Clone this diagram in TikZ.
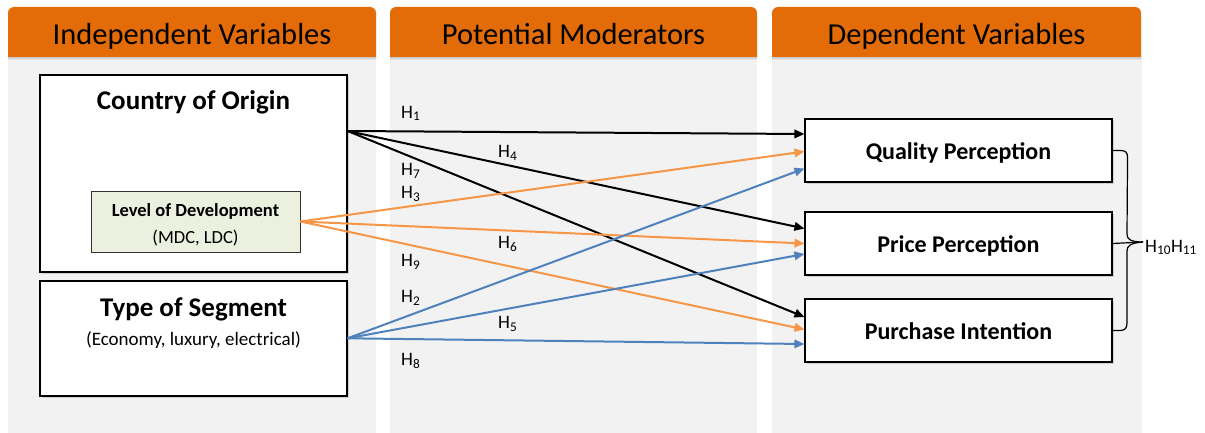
\documentclass[tikz,border=0pt]{standalone}
\usepackage{fontspec}
\setmainfont{Carlito}
\usetikzlibrary{arrows.meta,shadows,calc}

\definecolor{hdrorange}{HTML}{E36C09}
\definecolor{colgray}{HTML}{F2F2F2}
\definecolor{lodgreen}{HTML}{EBF1DE}
\definecolor{arrorange}{HTML}{F79646}
\definecolor{arrblue}{HTML}{4F81BD}

\newcommand\Hsub[1]{H\textsubscript{#1}}

\tikzset{
  colbg/.style={fill=colgray},
  hdrbar/.style={fill=hdrorange, drop shadow={shadow xshift=0pt, shadow yshift=-2.5pt, opacity=0.3}},
  hdrtext/.style={font=\fontsize{30.5}{36}\selectfont, anchor=base, inner sep=0},
  box/.style={draw=black, line width=1.1pt, fill=white, inner sep=0,
    drop shadow={shadow xshift=1.5pt, shadow yshift=-1.5pt, opacity=0.3}},
  lodbox/.style={draw=black!80, line width=0.9pt, fill=lodgreen, inner sep=0,
    drop shadow={shadow xshift=1.2pt, shadow yshift=-1.2pt, opacity=0.25}},
  ivtitle/.style={font=\bfseries\fontsize{27}{32}\selectfont, anchor=base, inner sep=0},
  ivsub/.style={font=\fontsize{19}{23}\selectfont, anchor=base, inner sep=0},
  lodtitle/.style={font=\bfseries\fontsize{18.5}{22}\selectfont, anchor=base, inner sep=0},
  lodsub/.style={font=\fontsize{18.5}{22}\selectfont, anchor=base, inner sep=0},
  dvtext/.style={font=\bfseries\fontsize{24}{28}\selectfont, anchor=base, inner sep=0},
  hlab/.style={font=\fontsize{19}{22}\selectfont, anchor=base west, inner sep=0},
  arr/.style={line width=2pt, -{Triangle[length=10pt,width=8.5pt]}},
  blackarr/.style={arr, draw=black},
  orangearr/.style={arr, draw=arrorange},
  bluearr/.style={arr, draw=arrblue},
  bracketline/.style={draw=black, line width=1.2pt},
}

\begin{document}
\begin{tikzpicture}[x=1pt,y=-1pt]
\useasboundingbox (0,0) rectangle (1205,433);

% grey column panels
\fill[colbg] (8,57) rectangle (376,433);
\fill[colbg] (390,57) rectangle (757,433);
\fill[colbg] (772,57) rectangle (1142,433);

% orange header bars with rounded top corners
\fill[hdrbar] (8,57) -- (8,20) [rounded corners=6pt] -- (8,7) -- (376,7) -- (376,20) [sharp corners] -- (376,57) -- cycle;
\fill[hdrbar] (390,57) -- (390,20) [rounded corners=6pt] -- (390,7) -- (757,7) -- (757,20) [sharp corners] -- (757,57) -- cycle;
\fill[hdrbar] (772,57) -- (772,20) [rounded corners=6pt] -- (772,7) -- (1141,7) -- (1141,20) [sharp corners] -- (1141,57) -- cycle;

\node[hdrtext] (h1) at (192,45) {Independent Variables};
\node[hdrtext] (h2) at (573.5,45) {Potential Moderators};
\node[hdrtext] (h3) at (956.5,45) {Dependent Variables};

% independent variables
\node[box, minimum width=307pt, minimum height=197pt] (coo) at (193.5,173.5) {};
\node[ivtitle] (cootxt) at (193.5,110) {Country of Origin};
\node[lodbox, minimum width=209pt, minimum height=61pt] (lod) at (195.5,221.5) {};
\node[lodtitle] (lodtxt) at (195.5,216.7) {Level of Development};
\node[lodsub] (lodsubtxt) at (195.5,243.3) {(MDC, LDC)};

\node[box, minimum width=307pt, minimum height=115pt] (tos) at (193.5,338.5) {};
\node[ivtitle] (tostxt) at (193.5,316) {Type of Segment};
\node[ivsub] (tossubtxt) at (193.5,345) {(Economy, luxury, electrical)};

% dependent variables
\node[box, minimum width=307pt, minimum height=63pt] (qp) at (958.5,150.5) {};
\node[dvtext] (qptxt) at (958.5,159.3) {Quality Perception};
\node[box, minimum width=307pt, minimum height=63pt] (pp) at (958.5,243.5) {};
\node[dvtext] (pptxt) at (958.5,252.3) {Price Perception};
\node[box, minimum width=307pt, minimum height=63pt] (pi) at (958.5,330.5) {};
\node[dvtext] (pitxt) at (958.5,339.3) {Purchase Intention};

% arrow origins
\coordinate (cooout) at ($(coo.east)+(0,-42.5)$);
\coordinate (tosout) at ($(tos.east)+(0,-0.2)$);

% hypothesis arrows
\draw[blackarr] (cooout) -- ($(qp.west)+(0,-16.5)$);
\draw[blackarr] (cooout) -- ($(pp.west)+(0,-15)$);
\draw[blackarr] (cooout) -- ($(pi.west)+(0,-13.5)$);

\draw[orangearr] (lod.east) -- ($(qp.west)+(0,1)$);
\draw[orangearr] (lod.east) -- ($(pp.west)+(0,0)$);
\draw[orangearr] (lod.east) -- ($(pi.west)+(0,-1)$);

\draw[bluearr] (tosout) -- ($(qp.west)+(0,18)$);
\draw[bluearr] (tosout) -- ($(pp.west)+(0,10.5)$);
\draw[bluearr] (tosout) -- ($(pi.west)+(0,13.5)$);

% hypothesis labels
\node[hlab] (lh1) at (401,118.3) {\Hsub{1}};
\node[hlab] (lh4) at (498,157.5) {\Hsub{4}};
\node[hlab] (lh7) at (401,175.5) {\Hsub{7}};
\node[hlab] (lh3) at (401,198.5) {\Hsub{3}};
\node[hlab] (lh6) at (498,248.5) {\Hsub{6}};
\node[hlab] (lh9) at (401,266.5) {\Hsub{9}};
\node[hlab] (lh2) at (401,302.5) {\Hsub{2}};
\node[hlab] (lh5) at (498,328.5) {\Hsub{5}};
\node[hlab] (lh8) at (401,365.5) {\Hsub{8}};

% joint bracket over the dependent variables
\coordinate (tip) at (1143,242);
\draw[bracketline] (qp.east) -- ++(8,0)
  .. controls ++(5,0) and ++(0,-5) .. ++(7,7)
  -- (1127,234) .. controls (1127,239) and (1130,242) .. (tip)
  .. controls (1130,243) and (1127,246) .. (1127,251)
  -- (1127,323) .. controls ++(0,5) and ++(5,0) .. ++(-7,7.5) -- (pi.east);
\draw[bracketline] (pp.east) -- (tip);
\node[hlab, anchor=base west] (h1011) at (1145,252) {\Hsub{10}\Hsub{11}};
\end{tikzpicture}
\end{document}
